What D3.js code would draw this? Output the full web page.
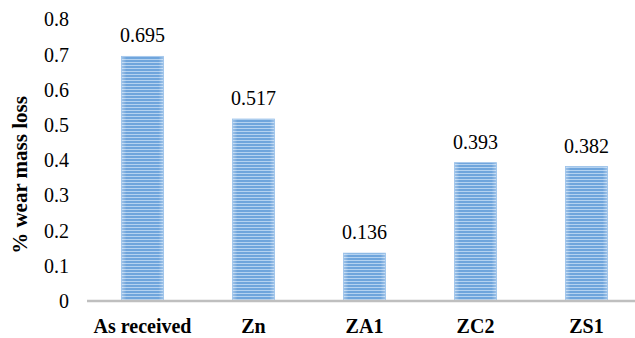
<!DOCTYPE html>
<html>
<head>
<meta charset="utf-8">
<script src="https://cdn.jsdelivr.net/npm/d3@7/dist/d3.min.js"></script>
<style>
  html, body { margin: 0; padding: 0; background: #fff; }
  svg { display: block; }
  svg text { font-family: "Liberation Serif", "DejaVu Serif", serif !important; fill: #000; }
</style>
</head>
<body>
<svg id="chart" width="635" height="338"></svg>
<script>
// Wear mass loss per sample
const categories = ["As received", "Zn", "ZA1", "ZC2", "ZS1"];
const values = [0.695, 0.517, 0.136, 0.393, 0.382];
const yTicks = [0, 0.1, 0.2, 0.3, 0.4, 0.5, 0.6, 0.7, 0.8];
const yTitle = "% wear mass loss";

const svg = d3.select("#chart");
const W = 635, H = 338;
const plot = { left: 87, right: 642, top: 19.4, bottom: 301 };

const x = d3.scaleBand()
  .domain(categories)
  .range([plot.left, plot.right])
  .paddingInner(0.62)
  .paddingOuter(0.31);

const y = d3.scaleLinear()
  .domain([0, 0.8])
  .range([plot.bottom, plot.top]);

// Horizontal stripe fill for the bars
const defs = svg.append("defs");
const pat = defs.append("pattern")
  .attr("id", "stripes")
  .attr("patternUnits", "userSpaceOnUse")
  .attr("width", 8).attr("height", 3);
pat.append("rect").attr("width", 8).attr("height", 3).attr("fill", "#6fa5dc");
pat.append("rect").attr("y", 2).attr("width", 8).attr("height", 1).attr("fill", "#b4d2f0");

const grad = defs.append("linearGradient").attr("id", "edge")
  .attr("x1", 0).attr("x2", 1).attr("y1", 0).attr("y2", 0);
grad.append("stop").attr("offset", 0).attr("stop-color", "#fff").attr("stop-opacity", 0.35);
grad.append("stop").attr("offset", 0.12).attr("stop-color", "#fff").attr("stop-opacity", 0);
grad.append("stop").attr("offset", 0.88).attr("stop-color", "#fff").attr("stop-opacity", 0);
grad.append("stop").attr("offset", 1).attr("stop-color", "#fff").attr("stop-opacity", 0.35);

const bars = svg.append("g");
categories.forEach((c, i) => {
  const bx = x(c), bw = x.bandwidth(), by = y(values[i]), bh = y(0) - y(values[i]);
  bars.append("rect").attr("x", bx).attr("y", by).attr("width", bw).attr("height", bh)
    .attr("fill", "url(#stripes)");
  bars.append("rect").attr("x", bx).attr("y", by).attr("width", bw).attr("height", bh)
    .attr("fill", "url(#edge)").attr("stroke", "#9cc2ea").attr("stroke-width", 0.8);
});

// Value labels
svg.append("g").selectAll("text")
  .data(values)
  .join("text")
  .attr("x", (d, i) => x(categories[i]) + x.bandwidth() / 2)
  .attr("y", d => y(d) - 14)
  .attr("text-anchor", "middle")
  .attr("font-size", 20)
  .text(d => d.toFixed(3));

// Y axis (labels only)
const yAxis = d3.axisLeft(y).tickValues(yTicks).tickSize(0).tickPadding(0)
  .tickFormat(d => d === 0 ? "0" : d3.format(".1f")(d));
const gy = svg.append("g").attr("transform", "translate(69,0)").call(yAxis);
gy.select(".domain").remove();
gy.selectAll("text").attr("font-size", 20);

// X axis
const xAxis = d3.axisBottom(x).tickSize(0).tickPadding(18);
const gx = svg.append("g").attr("transform", `translate(0,${y(0)})`).call(xAxis);
gx.select(".domain").attr("stroke", "#bfbfbf").attr("stroke-width", 2.5)
  .attr("d", `M${plot.left},0H${W}`);
gx.selectAll("text").attr("font-size", 20).attr("font-weight", "bold");

// Y axis title
svg.append("text")
  .attr("transform", `translate(27,175) rotate(-90)`)
  .attr("text-anchor", "middle")
  .attr("font-size", 21)
  .attr("font-weight", "bold")
  .text(yTitle);
</script>
</body>
</html>
